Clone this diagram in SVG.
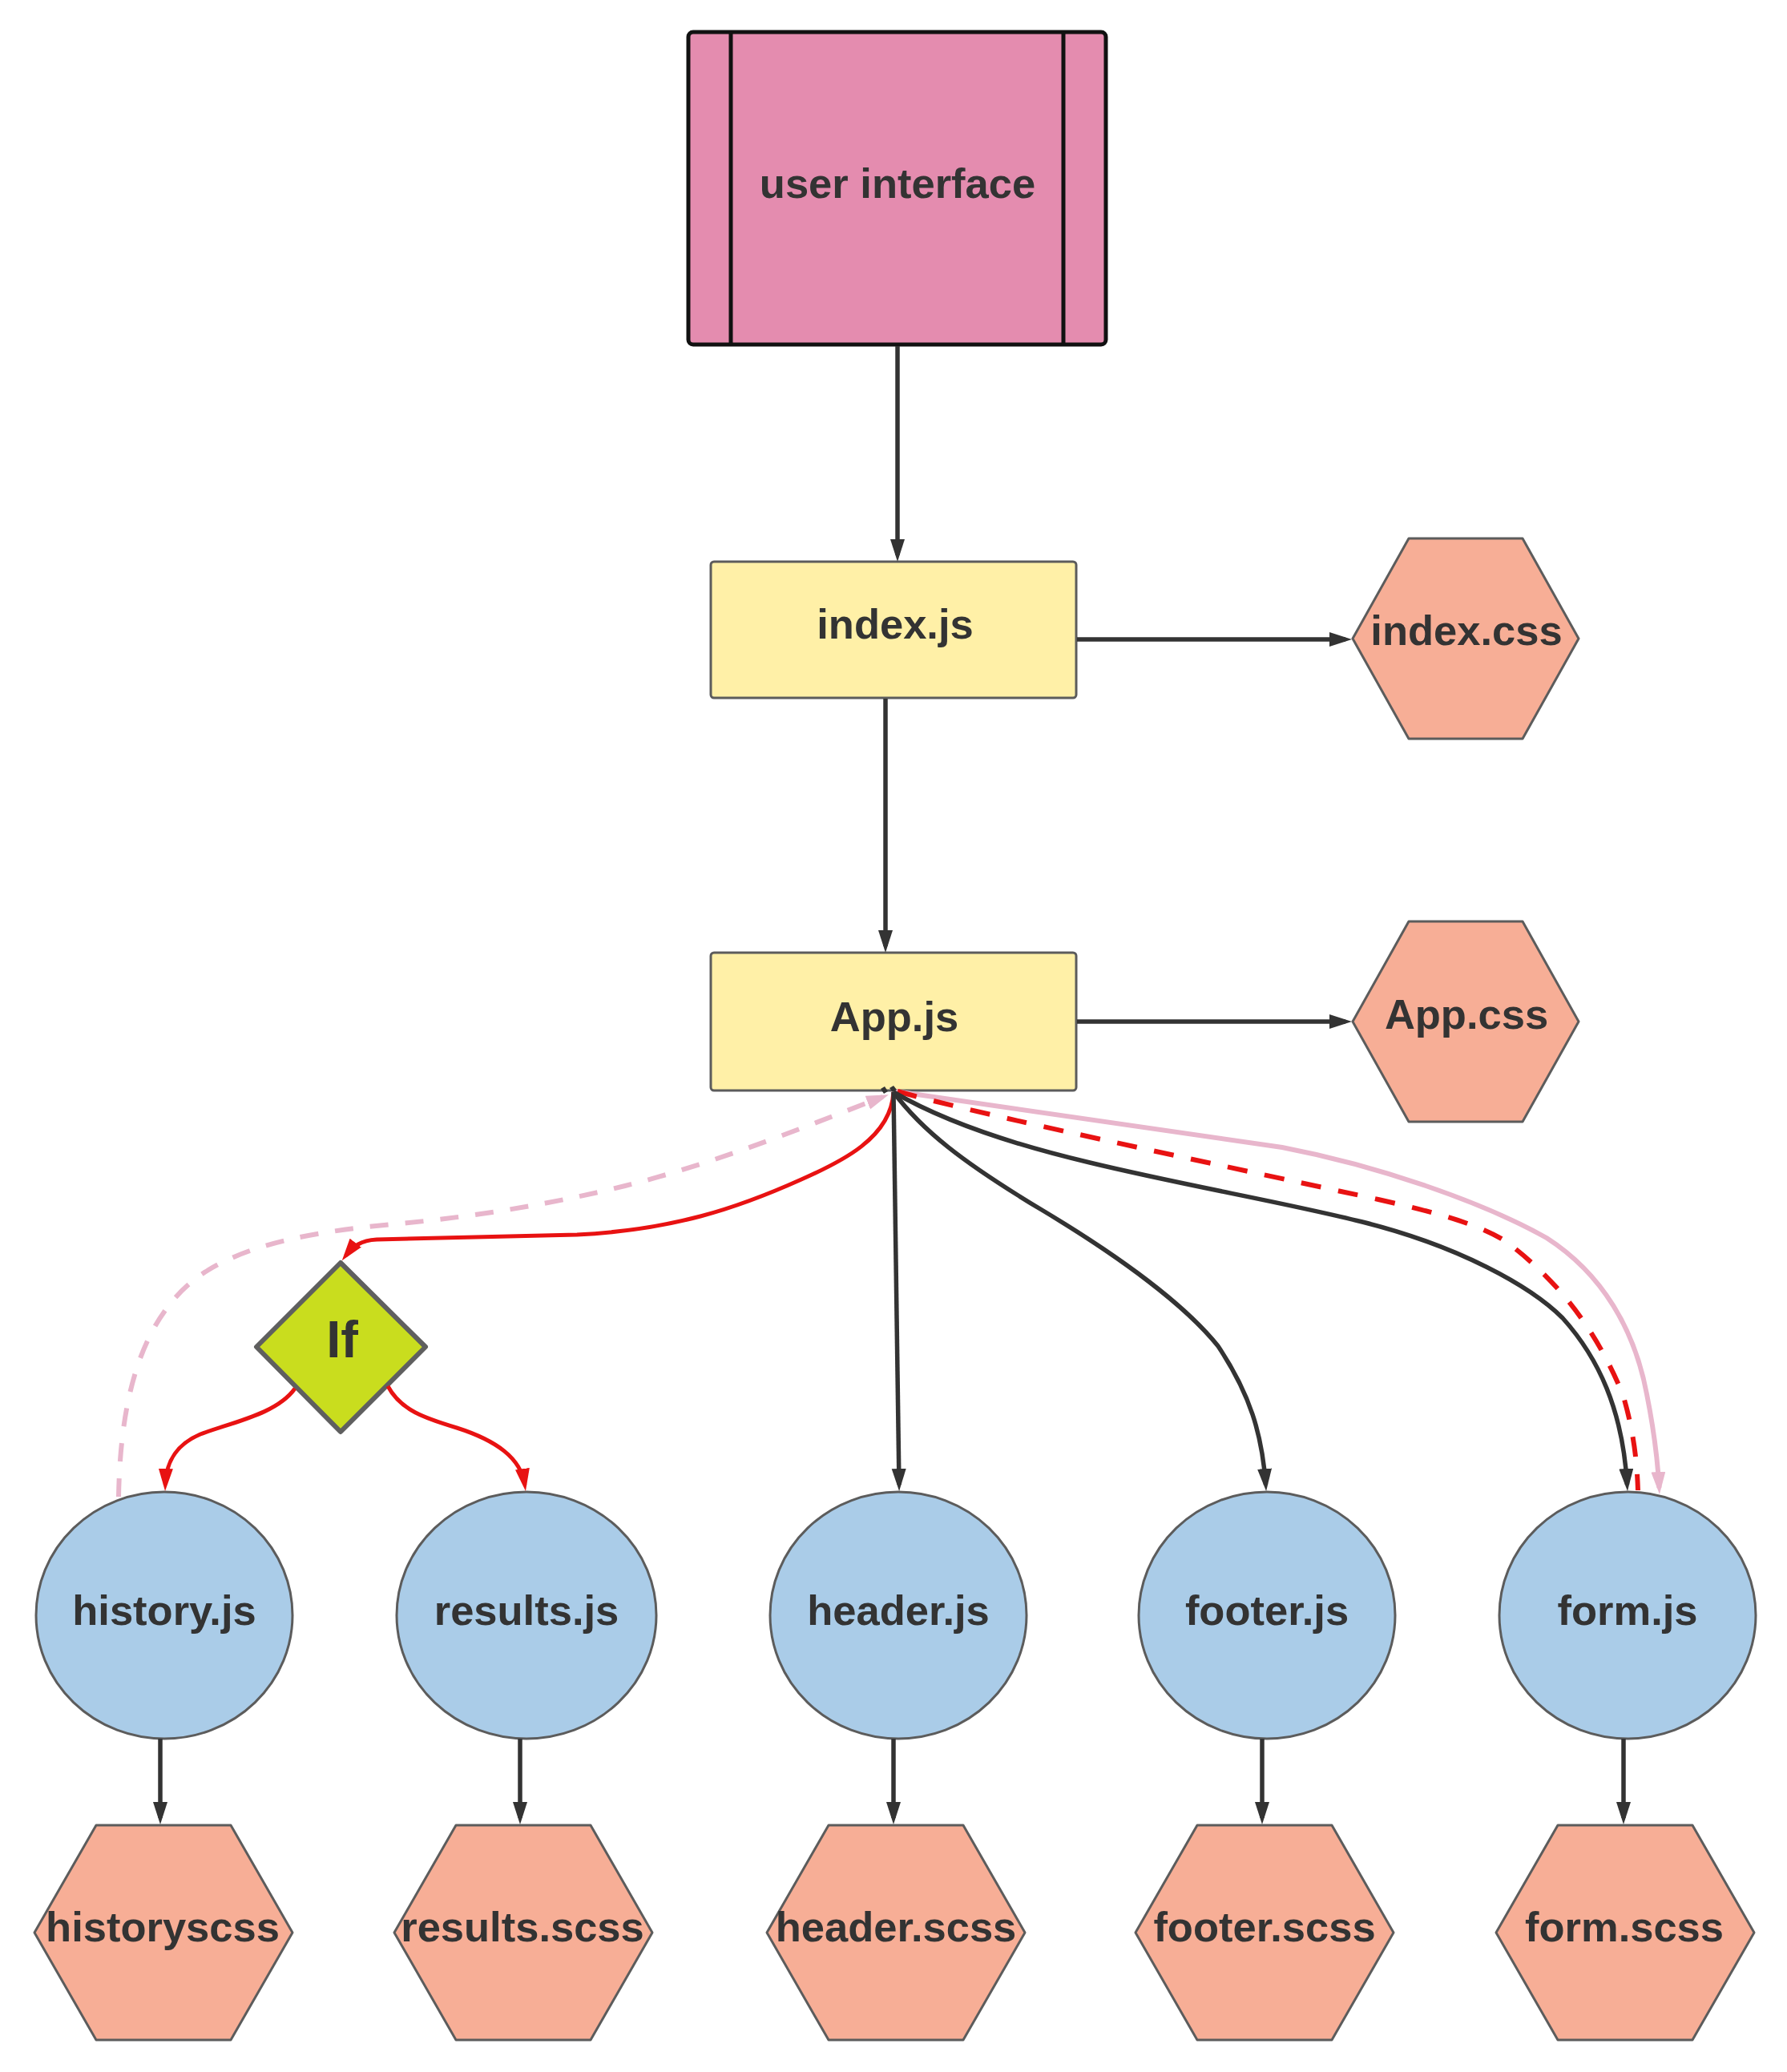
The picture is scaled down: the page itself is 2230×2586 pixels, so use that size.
<svg xmlns="http://www.w3.org/2000/svg" width="2230" height="2586" viewBox="0 0 2230 2586">
<style>
.lbl{font-family:"Liberation Sans",Arial,sans-serif;font-weight:bold;font-size:52.5px;fill:#333333;text-anchor:middle}
.box{fill:#FFF0A7;stroke:#5c5c5c;stroke-width:3}
.hex{fill:#F7AE96;stroke:#5c5c5c;stroke-width:3;stroke-linejoin:round}
.circ{fill:#AACCE8;stroke:#5c5c5c;stroke-width:3}
.dk{fill:none;stroke:#333333;stroke-width:5.5}
.rd{fill:none;stroke:#E81212;stroke-width:5}
.rdd{fill:none;stroke:#E81212;stroke-width:6;stroke-dasharray:25 22}
.pk{fill:none;stroke:#E8B6CC;stroke-width:6}
.pkd{fill:none;stroke:#E8B6CC;stroke-width:6;stroke-dasharray:23 21}
</style>
<defs>
<marker id="adk" markerUnits="userSpaceOnUse" markerWidth="30" markerHeight="20" refX="20" refY="9" orient="auto"><path d="M0,0 L28,9 L0,18 Z" fill="#333333"/></marker>
<marker id="ard" markerUnits="userSpaceOnUse" markerWidth="30" markerHeight="20" refX="20" refY="9" orient="auto"><path d="M0,0 L28,9 L0,18 Z" fill="#E81212"/></marker>
<marker id="apk" markerUnits="userSpaceOnUse" markerWidth="30" markerHeight="20" refX="20" refY="9" orient="auto"><path d="M0,0 L28,9 L0,18 Z" fill="#E8B6CC"/></marker>
</defs>
<rect width="2230" height="2586" fill="#ffffff"/>

<g id="user-interface">
<rect x="859" y="40" width="521" height="390" rx="6" fill="#E48CAF" stroke="#111111" stroke-width="5"/>
<line x1="912" y1="40" x2="912" y2="430" stroke="#111111" stroke-width="5"/>
<line x1="1327" y1="40" x2="1327" y2="430" stroke="#111111" stroke-width="5"/>
<text class="lbl" x="1120" y="247">user interface</text>
</g>

<g id="index-js">
<rect class="box" x="887" y="701" width="456" height="170" rx="4"/>
<text class="lbl" x="1117" y="797">index.js</text>
</g>

<g id="index-css">
<path class="hex" d="M1688,797 L1758,672 L1900,672 L1970,797 L1900,922 L1758,922 Z"/>
<text class="lbl" x="1830" y="805">index.css</text>
</g>

<g id="app-js">
<rect class="box" x="887" y="1189" width="456" height="172" rx="4"/>
<text class="lbl" x="1116" y="1287">App.js</text>
</g>

<g id="app-css">
<path class="hex" d="M1688,1275 L1758,1150 L1900,1150 L1970,1275 L1900,1400 L1758,1400 Z"/>
<text class="lbl" x="1830" y="1284">App.css</text>
</g>

<g id="if">
<path d="M425,1576 L531,1681 L425,1787 L320,1681 Z" fill="#C9DD1E" stroke="#5f5f5f" stroke-width="6" stroke-linejoin="round"/>
<text class="lbl" x="427" y="1694" style="font-size:65px">If</text>
</g>

<g id="history-js">
<ellipse class="circ" cx="205" cy="2016" rx="160" ry="154"/>
<text class="lbl" x="205" y="2028">history.js</text>
</g>
<g id="results-js">
<ellipse class="circ" cx="657" cy="2016" rx="162" ry="154"/>
<text class="lbl" x="657" y="2028">results.js</text>
</g>
<g id="header-js">
<ellipse class="circ" cx="1121" cy="2016" rx="160" ry="154"/>
<text class="lbl" x="1121" y="2028">header.js</text>
</g>
<g id="footer-js">
<ellipse class="circ" cx="1581" cy="2016" rx="160" ry="154"/>
<text class="lbl" x="1581" y="2028">footer.js</text>
</g>
<g id="form-js">
<ellipse class="circ" cx="2031" cy="2016" rx="160" ry="154"/>
<text class="lbl" x="2031" y="2028">form.js</text>
</g>

<g id="history-scss">
<path class="hex" d="M43,2412 L120,2278 L288,2278 L365,2412 L288,2546 L120,2546 Z"/>
<text class="lbl" x="203" y="2423">historyscss</text>
</g>
<g id="results-scss">
<path class="hex" d="M492,2412 L569,2278 L737,2278 L814,2412 L737,2546 L569,2546 Z"/>
<text class="lbl" x="652" y="2423">results.scss</text>
</g>
<g id="header-scss">
<path class="hex" d="M957,2412 L1034,2278 L1202,2278 L1279,2412 L1202,2546 L1034,2546 Z"/>
<text class="lbl" x="1118" y="2423">header.scss</text>
</g>
<g id="footer-scss">
<path class="hex" d="M1417,2412 L1494,2278 L1662,2278 L1739,2412 L1662,2546 L1494,2546 Z"/>
<text class="lbl" x="1578" y="2423">footer.scss</text>
</g>
<g id="form-scss">
<path class="hex" d="M1867,2412 L1944,2278 L2112,2278 L2189,2412 L2112,2546 L1944,2546 Z"/>
<text class="lbl" x="2027" y="2423">form.scss</text>
</g>

<g id="connectors">
<path class="dk" d="M1120,432 L1120,693" marker-end="url(#adk)"/>
<path class="dk" d="M1344,798 L1679,798" marker-end="url(#adk)"/>
<path class="dk" d="M1105,872 L1105,1181" marker-end="url(#adk)"/>
<path class="dk" d="M1344,1275 L1679,1275" marker-end="url(#adk)"/>

<path class="pkd" d="M148,1868 C150,1760 170,1640 260,1585 C310,1555 380,1538 490,1528 C600,1518 700,1500 780,1480 C900,1450 1020,1400 1101.5,1369" marker-end="url(#apk)"/>
<path class="pk" d="M1117,1362 L1600,1432 C1720,1455 1850,1500 1930,1545 C2000,1590 2040,1660 2055,1740 C2065,1790 2069,1830 2070.5,1857" marker-end="url(#apk)"/>
<path class="rdd" d="M1120,1362 C1200,1385 1400,1428 1720,1497 C1800,1515 1850,1530 1880,1550 C1960,1610 2000,1680 2025,1740 C2040,1790 2043,1830 2044,1860"/>
<path class="rd" d="M1115,1363 C1112,1420 1050,1450 1000,1472 C920,1508 840,1535 720,1541 L470,1547 C450,1548 440,1556 431.6,1567" marker-end="url(#ard)"/>
<path class="dk" d="M1115,1363 L1122,1853" marker-end="url(#adk)"/>
<path class="dk" d="M1115,1363 C1150,1410 1200,1450 1300,1510 C1400,1570 1480,1630 1520,1680 C1560,1740 1575,1790 1579.5,1853" marker-end="url(#adk)"/>
<path class="dk" d="M1115,1363 C1170,1395 1250,1425 1360,1451 C1480,1480 1600,1500 1700,1525 C1820,1555 1910,1605 1950,1645 C1995,1695 2025,1760 2030.5,1853" marker-end="url(#adk)"/>
<path d="M1099,1359 L1104,1356 L1108,1362 L1103,1365 Z" fill="#333333"/>
<path d="M1110,1358 L1115,1355 L1119,1360 L1114,1363 Z" fill="#333333"/>

<path class="rd" d="M368,1733 C345,1765 290,1775 250,1790 C215,1805 207,1830 206.3,1853" marker-end="url(#ard)"/>
<path class="rd" d="M484,1730 C500,1760 530,1770 570,1782 C620,1798 650,1820 654.8,1853" marker-end="url(#ard)"/>

<path class="dk" d="M200,2170 L200,2269" marker-end="url(#adk)"/>
<path class="dk" d="M649,2170 L649,2269" marker-end="url(#adk)"/>
<path class="dk" d="M1115,2170 L1115,2269" marker-end="url(#adk)"/>
<path class="dk" d="M1575,2170 L1575,2269" marker-end="url(#adk)"/>
<path class="dk" d="M2026,2170 L2026,2269" marker-end="url(#adk)"/>
</g>
</svg>
